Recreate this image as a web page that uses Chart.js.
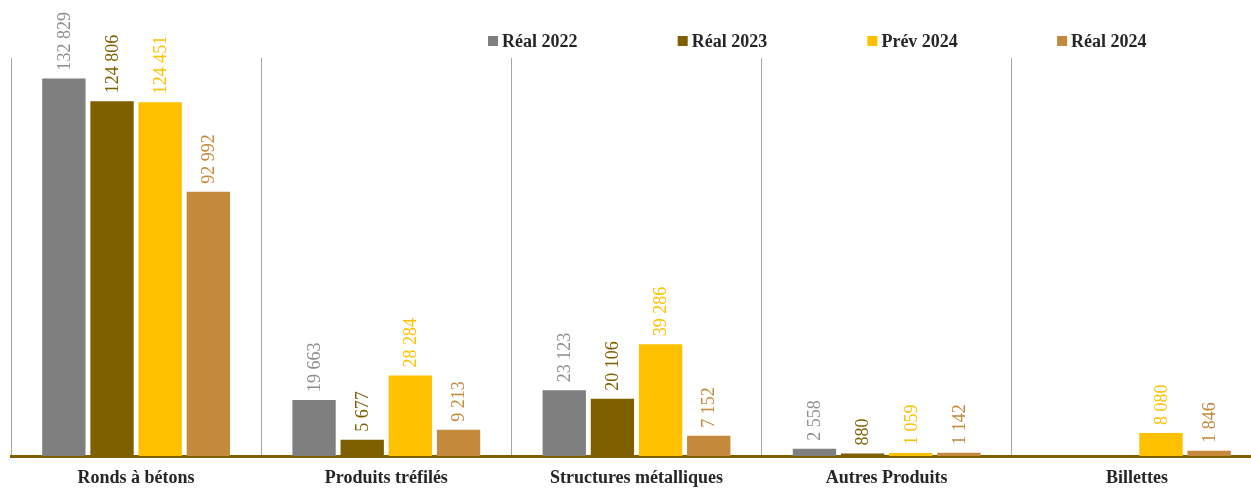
<!DOCTYPE html>
<html>
<head>
<meta charset="utf-8">
<script src="https://cdn.jsdelivr.net/npm/chart.js@4"></script>
<style>
  html, body { margin: 0; padding: 0; overflow: hidden; background: #fff; }
  #myChart { display: block; }
</style>
</head>
<body>
<canvas id="myChart" width="1262" height="488"></canvas>
<script>
// data
var categories = ['Ronds à bétons', 'Produits tréfilés', 'Structures métalliques', 'Autres Produits', 'Billettes'];
var seriesNames = ['Réal 2022', 'Réal 2023', 'Prév 2024', 'Réal 2024'];
var reel2022 = [132829, 19663, 23123, 2558, null];
var reel2023 = [124806, 5677, 20106, 880, null];
var prev2024 = [124451, 28284, 39286, 1059, 8080];
var reel2024 = [92992, 9213, 7152, 1142, 1846];

var barColors = ['#7F7F7F', '#7F6000', '#FFC000', '#C4893A'];
var labelColors = ['#8E8E8E', '#7F6000', '#FFC000', '#C4893A'];

function fmt(v) {
    return String(v).replace(/\B(?=(\d{3})+(?!\d))/g, ' ');
}

// rotated value labels above each bar
var valueLabels = {
    id: 'valueLabels',
    afterDatasetsDraw: function (chart) {
        var ctx = chart.ctx;
        ctx.save();
        ctx.font = '18px "Liberation Serif"';
        ctx.textAlign = 'left';
        ctx.textBaseline = 'middle';
        chart.data.datasets.forEach(function (ds, i) {
            var meta = chart.getDatasetMeta(i);
            meta.data.forEach(function (bar, j) {
                var v = ds.data[j];
                if (v === null || v === undefined) return;
                ctx.save();
                ctx.fillStyle = labelColors[i];
                ctx.translate(bar.x, bar.y - 8);
                ctx.rotate(-Math.PI / 2);
                ctx.fillText(fmt(v), 0, 1);
                ctx.restore();
            });
        });
        ctx.restore();
    }
};

// legend drawn across the top, spaced like the original
var topLegend = {
    id: 'topLegend',
    afterDraw: function (chart) {
        var ctx = chart.ctx;
        ctx.save();
        ctx.font = 'bold 18px "Liberation Serif"';
        ctx.textBaseline = 'middle';
        ctx.textAlign = 'left';
        chart.data.datasets.forEach(function (ds, i) {
            var x = 488 + i * 189.7;
            ctx.fillStyle = ds.backgroundColor;
            ctx.fillRect(x, 36, 10, 10);
            ctx.fillStyle = '#262626';
            ctx.fillText(ds.label, x + 14, 42);
        });
        ctx.restore();
    }
};

var seriesData = [reel2022, reel2023, prev2024, reel2024];
var datasets = seriesNames.map(function (name, i) {
    return {
        label: name,
        data: seriesData[i],
        backgroundColor: barColors[i],
        borderWidth: 0,
        categoryPercentage: 0.77,
        barPercentage: 0.9
    };
});

var ctx = document.getElementById('myChart').getContext('2d');
var myChart = new Chart(ctx, {
    type: 'bar',
    data: { labels: categories, datasets: datasets },
    plugins: [valueLabels, topLegend],
    options: {
        responsive: false,
        animation: false,
        layout: { padding: { top: 58, left: 11, right: 0, bottom: 0 } },
        scales: {
            x: {
                afterFit: function (scale) {
                    scale.height = 32;
                },
                grid: {
                    offset: true,
                    color: '#A6A6A6',
                    lineWidth: 1,
                    drawTicks: false
                },
                border: { color: '#7F6000', width: 3 },
                ticks: {
                    color: '#262626',
                    padding: 12,
                    font: { family: '"Liberation Serif"', size: 18, weight: 'bold' }
                }
            },
            y: {
                display: false,
                min: 0,
                max: 140000
            }
        },
        plugins: {
            legend: { display: false },
            tooltip: { enabled: false }
        }
    }
});
</script>
</body>
</html>
